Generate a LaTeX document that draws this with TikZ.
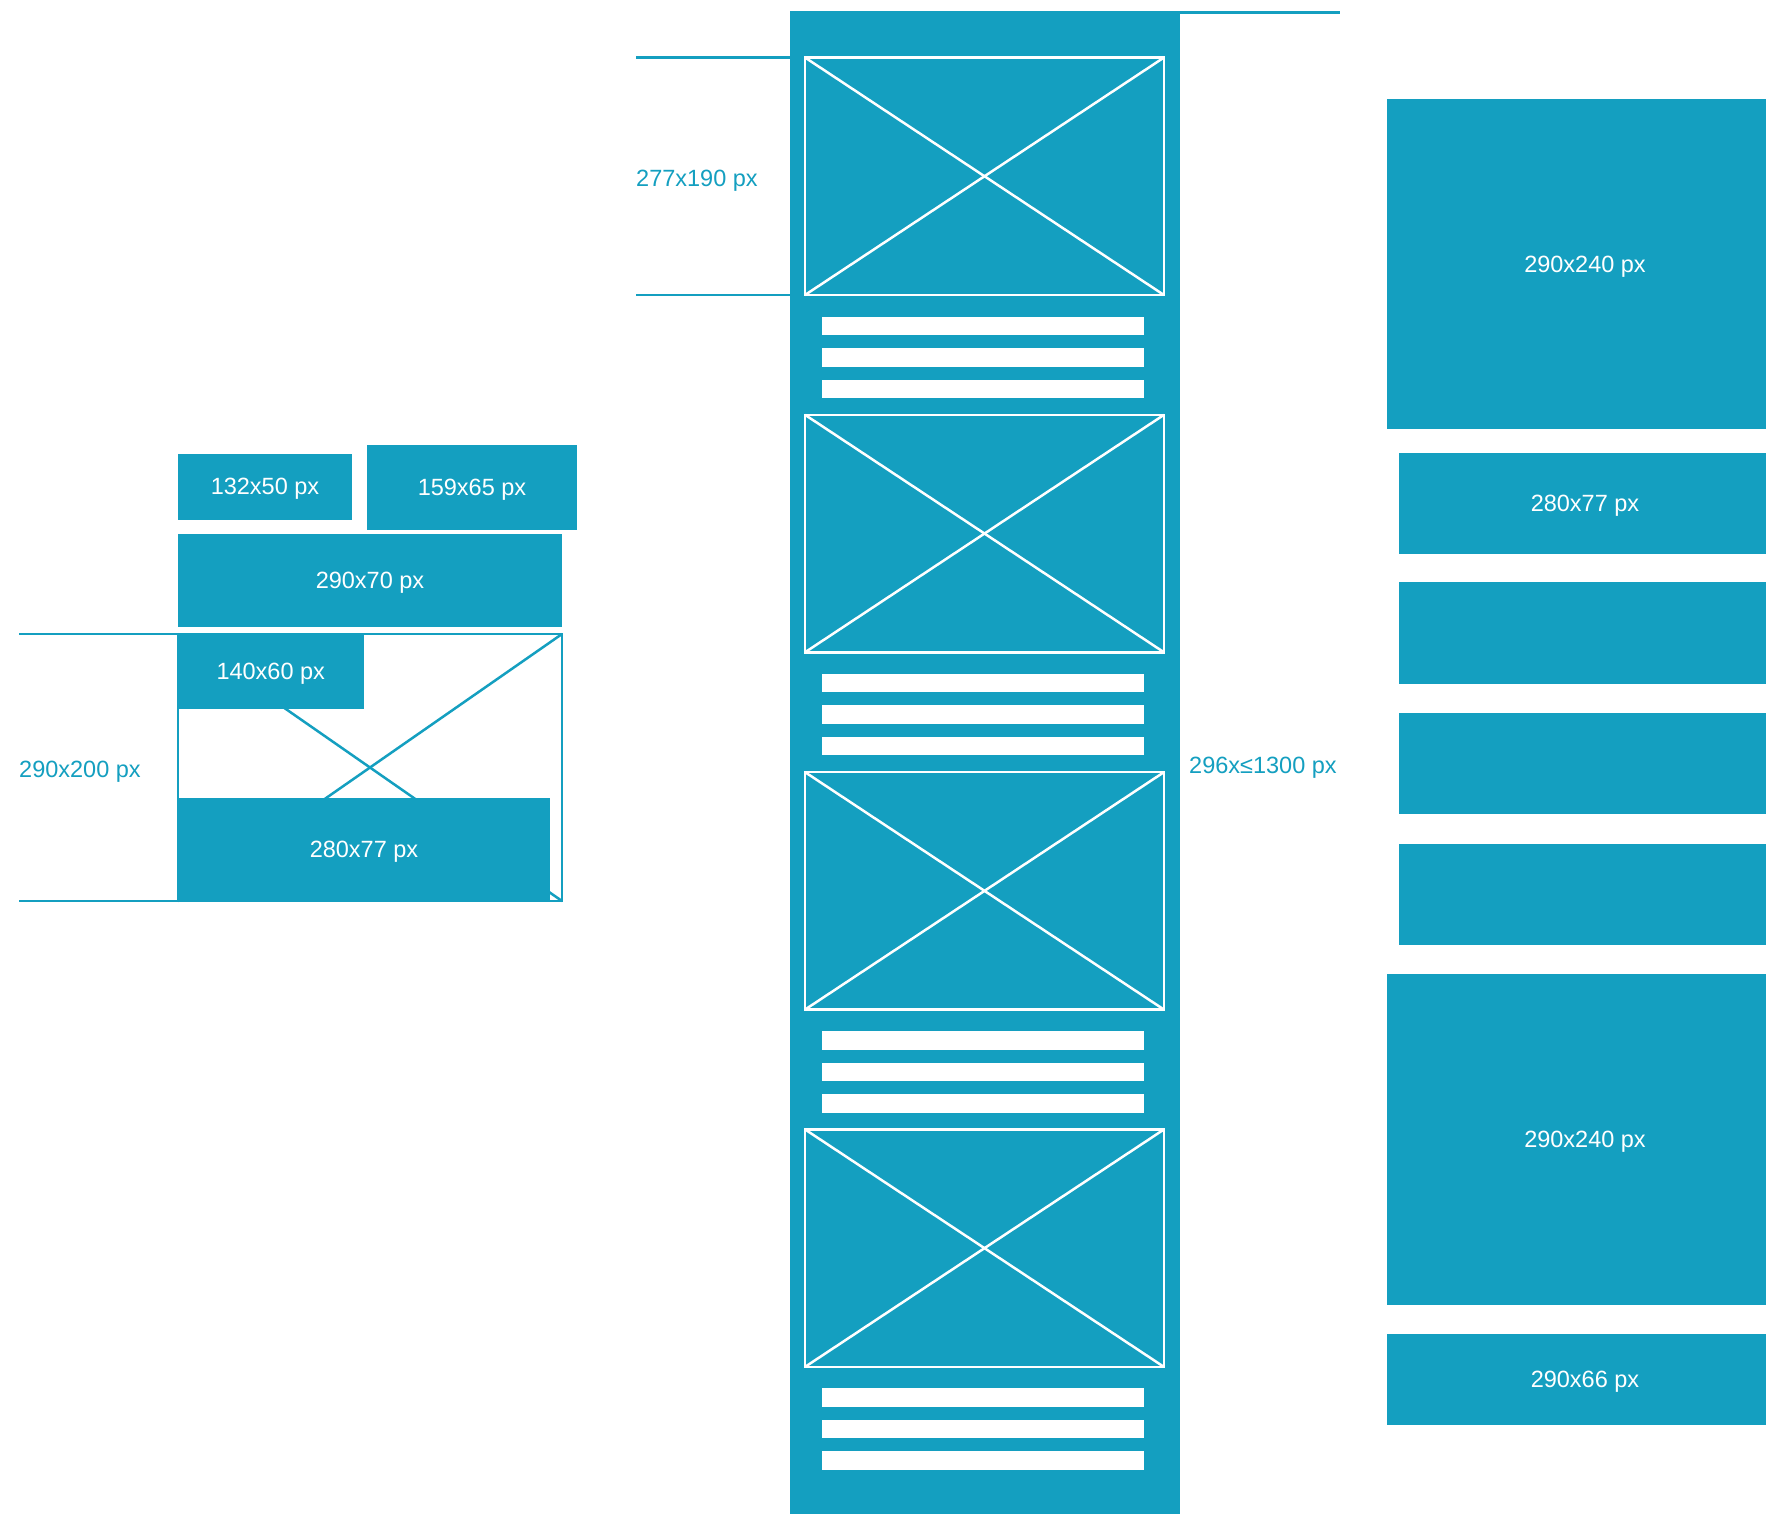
\documentclass[tikz,border=0pt]{standalone}
\usepackage{fontspec}
\setmainfont{Liberation Sans}
\definecolor{wire}{RGB}{20,159,192}
\newcommand{\dimSize}[0]{\fontsize{23.5}{28}\selectfont}

\begin{document}
\begin{tikzpicture}[x=1pt, y=-1pt]
  \tikzset{
    block/.style={fill=wire, text=white, inner sep=0pt, outer sep=0pt, anchor=north west, font=\dimSize, text depth=0pt},
    img/.style={draw=white, line width=2.5pt, inner sep=0pt, outer sep=0pt, anchor=north west, minimum width=359pt, minimum height=237.5pt},
    bar/.style={fill=white, inner sep=0pt, outer sep=0pt, anchor=north west, minimum width=322pt, minimum height=18.5pt},
    dim/.style={text=wire, inner sep=0pt, anchor=west, font=\dimSize, text depth=0pt},
    dimline/.style={draw=wire, line width=2.5pt},
    cross/.style={draw=white, line width=2.5pt}
  }
  \useasboundingbox (0,0) rectangle (1766,1513);
  \clip (0,0) rectangle (1766,1513);
  \fill[white] (0,0) rectangle (1766,1513);

  % left: header and teaser
  \node[block, minimum width=174pt, minimum height=65.5pt] (b132) at (178,454) {132x50 px};
  \node[block, minimum width=210pt, minimum height=85pt] (b159) at (367,445) {159x65 px};
  \node[block, minimum width=384pt, minimum height=92.5pt] (b290) at (178,534) {290x70 px};
  \node[draw=wire, line width=2.5pt, fill=white, inner sep=0pt, outer sep=0pt, anchor=north west,
        minimum width=384pt, minimum height=267pt] (frame) at (178,634) {};
  \draw[dimline] (frame.north west) -- (frame.south east);
  \draw[dimline] (frame.north east) -- (frame.south west);
  \node[block, minimum width=185.5pt, minimum height=74.5pt] (b140) at (178,634) {140x60 px};
  \node[block, minimum width=372pt, minimum height=103.5pt] (b280) at (178,797.5) {280x77 px};
  \coordinate (frame-a) at (19,634);
  \coordinate (frame-b) at (19,901);
  \draw[dimline] (frame-a) -- (frame.north west);
  \draw[dimline] (frame-b) -- (frame.south west);
  \node[dim] (frame-size) at (19,769) {290x200 px};

  % middle: the feed column
  \node[block, minimum width=390pt, minimum height=1510pt] (col) at (789.5,11.3) {};
  \node[img] (img-1) at (805,57.5) {};
  \node[img] (img-2) at (805,414.8) {};
  \node[img] (img-3) at (805,772.1) {};
  \node[img] (img-4) at (805,1129.4) {};
  \draw[cross] (img-1.north west) -- (img-1.south east);
  \draw[cross] (img-1.north east) -- (img-1.south west);
  \draw[cross] (img-2.north west) -- (img-2.south east);
  \draw[cross] (img-2.north east) -- (img-2.south west);
  \draw[cross] (img-3.north west) -- (img-3.south east);
  \draw[cross] (img-3.north east) -- (img-3.south west);
  \draw[cross] (img-4.north west) -- (img-4.south east);
  \draw[cross] (img-4.north east) -- (img-4.south west);
  \node[bar] (bar-1-1) at (822,316.5) {};
  \node[bar] (bar-1-2) at (822,348) {};
  \node[bar] (bar-1-3) at (822,379.5) {};
  \node[bar] (bar-2-1) at (822,673.8) {};
  \node[bar] (bar-2-2) at (822,705.3) {};
  \node[bar] (bar-2-3) at (822,736.8) {};
  \node[bar] (bar-3-1) at (822,1031.1) {};
  \node[bar] (bar-3-2) at (822,1062.6) {};
  \node[bar] (bar-3-3) at (822,1094.1) {};
  \node[bar] (bar-4-1) at (822,1388.4) {};
  \node[bar] (bar-4-2) at (822,1419.9) {};
  \node[bar] (bar-4-3) at (822,1451.4) {};
  \coordinate (img-a) at (636,57.5);
  \coordinate (img-b) at (636,295);
  \draw[dimline] (img-a) -- (col.west |- img-1.north);
  \draw[dimline] (img-b) -- (col.west |- img-1.south);
  \node[dim] (img-size) at (636,178) {277x190 px};
  \coordinate (col-end) at (1340,12.5);
  \draw[dimline] (col.east |- col-end) -- (col-end);
  \node[dim] (col-size) at (1189,765) {296x≤1300 px};

  % right: the sidebar
  \node[block, minimum width=397pt, minimum height=330pt] (r1) at (1386.5,99) {290x240 px};
  \node[block, minimum width=372pt, minimum height=101pt] (r2) at (1399,453) {280x77 px};
  \node[block, minimum width=372pt, minimum height=102pt] (r3) at (1399,582) {};
  \node[block, minimum width=372pt, minimum height=101pt] (r4) at (1399,713) {};
  \node[block, minimum width=372pt, minimum height=101.5pt] (r5) at (1399,843.5) {};
  \node[block, minimum width=397pt, minimum height=331pt] (r6) at (1386.5,974) {290x240 px};
  \node[block, minimum width=397pt, minimum height=91.5pt] (r7) at (1386.5,1333.5) {290x66 px};
\end{tikzpicture}
\end{document}
